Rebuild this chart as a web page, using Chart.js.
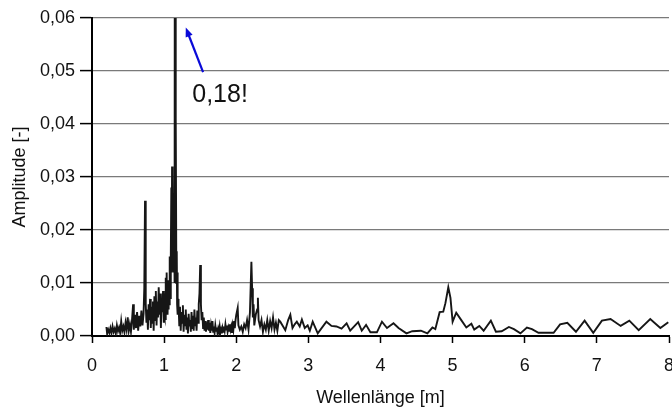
<!DOCTYPE html>
<html>
<head>
<meta charset="utf-8">
<script src="https://cdn.jsdelivr.net/npm/chart.js@4/dist/chart.umd.min.js"></script>
<style>
	html, body { margin: 0; padding: 0; background: #fff; }
	#wrap { width: 672px; height: 408px; }
</style>
</head>
<body>
<div id="wrap"><canvas id="spectrum"></canvas></div>
<script>
// Wellenlänge [m]
const wavelength = [
	0.20, 0.21, 0.225, 0.24, 0.255, 0.27, 0.285, 0.30, 0.315, 0.33, 0.345, 0.36, 0.375, 0.39, 0.405, 0.42, 0.435, 0.45, 0.465, 0.48,
	0.495, 0.51, 0.525, 0.54, 0.555, 0.57, 0.58, 0.595, 0.61, 0.625, 0.64, 0.655, 0.67, 0.685, 0.70, 0.715, 0.725, 0.735, 0.745, 0.755,
	0.765, 0.775, 0.785, 0.795, 0.805, 0.815, 0.825, 0.835, 0.845, 0.855, 0.865, 0.875, 0.885, 0.895, 0.905, 0.915, 0.925, 0.935, 0.945, 0.955,
	0.965, 0.975, 0.985, 0.995,
	1.000, 1.005, 1.010, 1.015, 1.020, 1.025, 1.030, 1.035, 1.040, 1.045, 1.050, 1.055, 1.060, 1.065, 1.070, 1.075, 1.080, 1.085, 1.090, 1.095,
	1.100, 1.105, 1.110, 1.115, 1.120, 1.125, 1.130, 1.135, 1.140, 1.145, 1.152, 1.158, 1.164, 1.170, 1.175, 1.180, 1.185, 1.190, 1.195,
	1.20, 1.21, 1.22, 1.23, 1.24, 1.25, 1.26, 1.27, 1.28, 1.29, 1.30, 1.31, 1.32, 1.33, 1.34, 1.35, 1.36, 1.37, 1.38, 1.39,
	1.40, 1.41, 1.42, 1.43, 1.44, 1.45, 1.46, 1.47, 1.48, 1.49, 1.50, 1.51, 1.52, 1.53, 1.54, 1.55, 1.56, 1.57, 1.58, 1.59,
	1.60, 1.61, 1.62, 1.63, 1.64, 1.65, 1.66, 1.67, 1.68, 1.69, 1.70, 1.71, 1.72, 1.73, 1.74, 1.75, 1.76, 1.77, 1.78, 1.79,
	1.80, 1.81, 1.82, 1.83, 1.84, 1.85, 1.86, 1.87, 1.88, 1.89, 1.90, 1.91, 1.92, 1.93, 1.94, 1.95, 1.96, 1.97, 1.98, 1.99,
	2.00, 2.02, 2.03, 2.05, 2.07, 2.09, 2.11, 2.13, 2.15, 2.17, 2.19, 2.21, 2.22, 2.23, 2.24, 2.25, 2.27, 2.29, 2.30, 2.31,
	2.33, 2.35, 2.37, 2.39, 2.41, 2.43, 2.45, 2.47, 2.49, 2.51, 2.53, 2.55, 2.57, 2.59, 2.61,
	2.65, 2.68, 2.72, 2.75, 2.78, 2.81, 2.84, 2.88, 2.91, 2.95, 2.99, 3.02, 3.06, 3.13, 3.25, 3.32, 3.39, 3.46, 3.53, 3.58,
	3.69, 3.74, 3.80, 3.86, 3.95, 4.02, 4.09, 4.18, 4.25, 4.36, 4.44, 4.56, 4.65, 4.72, 4.76, 4.82, 4.87, 4.90, 4.94, 4.97,
	5.00, 5.05, 5.12, 5.19, 5.26, 5.30, 5.37, 5.43, 5.53, 5.60, 5.68, 5.78, 5.85, 5.94, 6.03, 6.10, 6.19, 6.31, 6.40, 6.49,
	6.59, 6.71, 6.83, 6.95, 7.07, 7.19, 7.33, 7.45, 7.58, 7.74, 7.88, 7.99
];

// Amplitude [-]
const amplitude = [
	0.0017, 0.0004, 0.0012, 0.0006, 0.0015, 0.0005, 0.0018, 0.0008, 0.0014, 0.0004, 0.0020, 0.0009, 0.0016, 0.0006, 0.0028, 0.0010, 0.0018, 0.0007, 0.0025, 0.0012,
	0.0035, 0.0010, 0.0022, 0.0008, 0.0030, 0.0060, 0.0012, 0.0040, 0.0015, 0.0045, 0.0010, 0.0038, 0.0018, 0.0048, 0.0020, 0.0042, 0.0090, 0.0255, 0.0060, 0.0025,
	0.0050, 0.0012, 0.0060, 0.0030, 0.0070, 0.0015, 0.0055, 0.0025, 0.0065, 0.0010, 0.0075, 0.0030, 0.0085, 0.0020, 0.0065, 0.0035, 0.0092, 0.0040, 0.0080, 0.0015,
	0.0070, 0.0045, 0.0085, 0.0025,
	0.0040, 0.0080, 0.0035, 0.0060, 0.0030, 0.0110, 0.0045, 0.0120, 0.0060, 0.0100, 0.0040, 0.0085, 0.0050, 0.0105, 0.0060, 0.0150, 0.0080, 0.0130, 0.0070, 0.0150,
	0.0280, 0.0120, 0.0320, 0.0200, 0.0300, 0.0150, 0.0270, 0.0120, 0.0200, 0.0100, 0.1800, 0.0120, 0.0410, 0.0100, 0.0160, 0.0060, 0.0120, 0.0040, 0.0070,
	0.0060, 0.0020, 0.0055, 0.0010, 0.0045, 0.0025, 0.0058, 0.0008, 0.0040, 0.0020, 0.0050, 0.0012, 0.0035, 0.0005, 0.0042, 0.0018, 0.0030, 0.0008, 0.0045, 0.0015,
	0.0038, 0.0010, 0.0050, 0.0020, 0.0035, 0.0010, 0.0048, 0.0025, 0.0060, 0.0080, 0.0134, 0.0060, 0.0030, 0.0045, 0.0015, 0.0035, 0.0010, 0.0028, 0.0008, 0.0025,
	0.0012, 0.0030, 0.0010, 0.0025, 0.0006, 0.0020, 0.0010, 0.0028, 0.0008, 0.0018, 0.0006, 0.0020, 0.0010, 0.0016, 0.0005, 0.0014, 0.0008, 0.0018, 0.0006, 0.0012,
	0.0005, 0.0015, 0.0008, 0.0018, 0.0010, 0.0022, 0.0012, 0.0020, 0.0008, 0.0016, 0.0010, 0.0022, 0.0012, 0.0018, 0.0006, 0.0020, 0.0012, 0.0028, 0.0015, 0.0030,
	0.0040, 0.0053, 0.0020, 0.0012, 0.0018, 0.0008, 0.0022, 0.0015, 0.0030, 0.0012, 0.0045, 0.0140, 0.0090, 0.0035, 0.0060, 0.0020, 0.0040, 0.0050, 0.0072, 0.0030,
	0.0018, 0.0030, 0.0008, 0.0022, 0.0012, 0.0030, 0.0010, 0.0028, 0.0015, 0.0035, 0.0012, 0.0025, 0.0010, 0.0030, 0.0027,
	0.0018, 0.0011, 0.0030, 0.0040, 0.0015, 0.0022, 0.0027, 0.0018, 0.0031, 0.0015, 0.0020, 0.0010, 0.0027, 0.0005, 0.0027, 0.0019, 0.0018, 0.0014, 0.0024, 0.0010,
	0.0026, 0.0010, 0.0021, 0.0007, 0.0007, 0.0027, 0.0015, 0.0024, 0.0015, 0.0005, 0.0009, 0.0010, 0.0005, 0.0016, 0.0013, 0.0045, 0.0046, 0.0062, 0.0092, 0.0072,
	0.0027, 0.0044, 0.0030, 0.0016, 0.0023, 0.0012, 0.0019, 0.0010, 0.0029, 0.0008, 0.0009, 0.0017, 0.0013, 0.0005, 0.0016, 0.0013, 0.0006, 0.0006, 0.0006, 0.0022,
	0.0025, 0.0008, 0.0029, 0.0006, 0.0029, 0.0032, 0.0019, 0.0029, 0.0011, 0.0032, 0.0015, 0.0026
];

if (wavelength.length !== amplitude.length) console.error('length mismatch', wavelength.length, amplitude.length);

const xTicks = [0, 1, 2, 3, 4, 5, 6, 7, 8];
const yTicks = [0, 0.01, 0.02, 0.03, 0.04, 0.05, 0.06];

// Hinweis auf den abgeschnittenen Peak
const noteText = '0,18!';
const noteArrow = { from: [1.54, 0.0498], to: [1.30, 0.0582] };
const noteTextPos = [1.39, 0.0442];

const font = 'Liberation Sans, Arial, sans-serif';

const notePlugin = {
	id: 'note',
	afterDatasetsDraw(chart) {
		const ctx = chart.ctx;
		const x = chart.scales.x, y = chart.scales.y;
		const x0 = x.getPixelForValue(noteArrow.from[0]), y0 = y.getPixelForValue(noteArrow.from[1]);
		const x1 = x.getPixelForValue(noteArrow.to[0]), y1 = y.getPixelForValue(noteArrow.to[1]);
		const ang = Math.atan2(y1 - y0, x1 - x0);
		const head = 10;
		ctx.save();
		ctx.strokeStyle = '#0a0ad8';
		ctx.fillStyle = '#0a0ad8';
		ctx.lineWidth = 2.2;
		ctx.beginPath();
		ctx.moveTo(x0, y0);
		ctx.lineTo(x1 - Math.cos(ang) * head * 0.8, y1 - Math.sin(ang) * head * 0.8);
		ctx.stroke();
		ctx.beginPath();
		ctx.moveTo(x1, y1);
		ctx.lineTo(x1 - head * Math.cos(ang - 0.38), y1 - head * Math.sin(ang - 0.38));
		ctx.lineTo(x1 - head * Math.cos(ang + 0.38), y1 - head * Math.sin(ang + 0.38));
		ctx.closePath();
		ctx.fill();
		ctx.fillStyle = '#111';
		ctx.font = '25px ' + font;
		ctx.textBaseline = 'alphabetic';
		ctx.fillText(noteText, x.getPixelForValue(noteTextPos[0]), y.getPixelForValue(noteTextPos[1]));
		ctx.restore();
	}
};

const place = document.getElementById('spectrum').getContext('2d');

new Chart(place, {
	type: 'line',
	data: {
		datasets: [{
			data: wavelength.map((w, i) => ({ x: w, y: amplitude[i] })),
			borderColor: '#161616',
			borderWidth: 1.9,
			pointRadius: 0,
			tension: 0,
			fill: false,
		}]
	},
	options: {
		responsive: true,
		maintainAspectRatio: false,
		animation: false,
		layout: {
			padding: { top: 18, right: 3, left: 0, bottom: 0 }
		},
		scales: {
			x: {
				type: 'linear',
				min: 0,
				max: 8,
				afterFit: function (scale) {
					scale.height = 72;
					scale.paddingLeft = 0;
					scale.paddingRight = 0;
				},
				afterBuildTicks: function (scale) {
					scale.ticks = xTicks.map(v => ({ value: v }));
				},
				border: { display: true, color: '#000', width: 2 },
				grid: {
					display: true,
					drawOnChartArea: false,
					drawTicks: true,
					tickLength: 7,
					tickColor: '#000',
					tickWidth: 1.5,
				},
				ticks: {
					color: '#111',
					padding: 12,
					maxRotation: 0,
					font: { size: 18, family: font },
					callback: function (value) {
						return String(value);
					},
				},
				title: {
					display: true,
					text: 'Wellenlänge [m]',
					color: '#111',
					padding: { top: 0, bottom: 0 },
					font: { size: 18, family: font, lineHeight: 1.1 },
				}
			},
			y: {
				min: 0,
				max: 0.06,
				afterFit: function (scale) {
					scale.width = 92;
					scale.paddingTop = 0;
					scale.paddingBottom = 0;
				},
				afterBuildTicks: function (scale) {
					scale.ticks = yTicks.map(v => ({ value: v }));
				},
				border: { display: true, color: '#000', width: 2 },
				grid: {
					display: true,
					color: '#7a7a7a',
					lineWidth: 1.2,
					drawTicks: true,
					tickLength: 12,
					tickColor: '#000',
					tickWidth: 1.5,
				},
				ticks: {
					color: '#111',
					padding: 5,
					font: { size: 18, family: font },
					callback: function (value) {
						return value.toFixed(2).replace('.', ',');
					},
				},
				title: {
					display: true,
					text: 'Amplitude [-]',
					color: '#111',
					padding: { top: 10, bottom: 0 },
					font: { size: 18, family: font, lineHeight: 1.1 },
				}
			}
		},
		plugins: {
			legend: { display: false },
			tooltip: { enabled: false },
		}
	},
	plugins: [notePlugin]
});
</script>
</body>
</html>
